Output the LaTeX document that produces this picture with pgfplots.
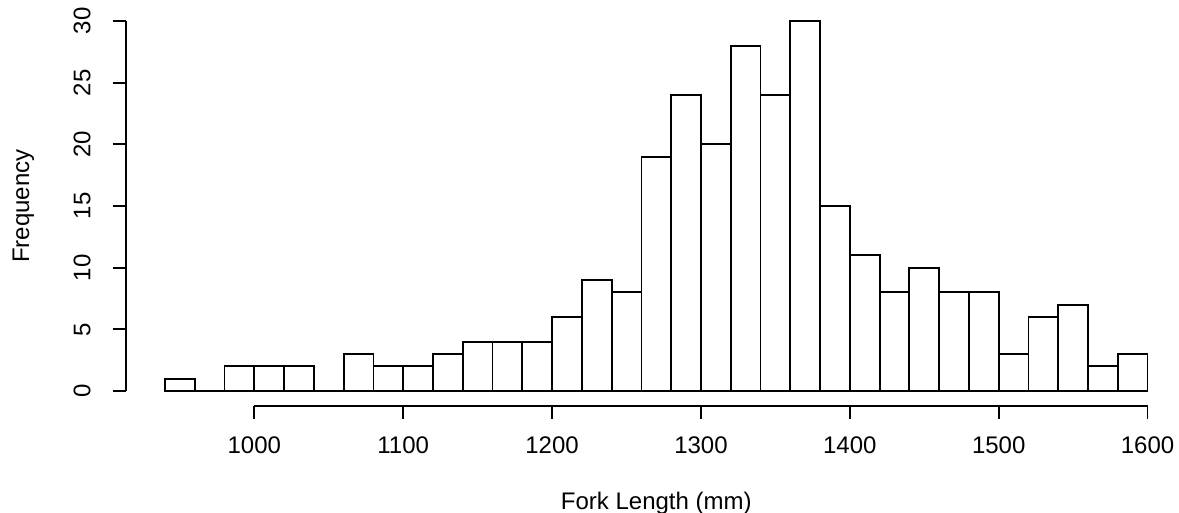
\documentclass[border=0pt]{standalone}
\usepackage{pgfplots}
\pgfplotsset{compat=1.18}
\usepackage{fontspec}
\setmainfont{Liberation Sans}

\begin{document}
\begin{tikzpicture}
\begin{axis}[
    scale only axis,
    width=530.6pt, height=199.8pt,
    xmin=913.6, xmax=1626.4,
    ymin=-1.2, ymax=31.2,
    enlargelimits=false,
    axis x line*=bottom, axis y line*=left,
    axis line style={draw=none},
    tick align=outside,
    major tick length=6.5pt,
    tick style={black, line width=0.9pt},
    xtick={1000,1100,...,1600},
    ytick={0,5,...,30},
    minor tick num=0,
    /pgf/number format/assume math mode=true,
    /pgf/number format/1000 sep={},
    font=\fontsize{12}{14}\selectfont,
    xticklabel style={anchor=north, yshift=-5.5pt},
    yticklabel style={xshift=-7.5pt, rotate=90, anchor=south},
    xlabel={Fork Length (mm)},
    ylabel={Frequency},
    every axis x label/.style={at={(axis description cs:0.5,-0.245)}, anchor=center},
    every axis y label/.style={at={(axis description cs:-0.0965,0.5)}, rotate=90, anchor=center},
    clip=false,
]
% counts per 20 mm bin, 940--1600
\addplot[ybar interval, draw=black, fill=white, line width=0.9pt]
    coordinates {(940,1) (960,0) (980,2) (1000,2) (1020,2) (1040,0)
    (1060,3) (1080,2) (1100,2) (1120,3) (1140,4) (1160,4) (1180,4)
    (1200,6) (1220,9) (1240,8) (1260,19) (1280,24) (1300,20) (1320,28)
    (1340,24) (1360,30) (1380,15) (1400,11) (1420,8) (1440,10) (1460,8)
    (1480,8) (1500,3) (1520,6) (1540,7) (1560,2) (1580,3) (1600,3)};

% R style detached axis lines
\draw[black, line width=0.9pt] (axis cs:1000,-1.2) -- (axis cs:1600,-1.2);
\draw[black, line width=0.9pt] (axis cs:913.6,0) -- (axis cs:913.6,30);
\end{axis}
\pgfresetboundingbox
\path (-62.85pt,-53.6pt) rectangle (526.65pt,202.9pt);
\end{tikzpicture}
\end{document}
